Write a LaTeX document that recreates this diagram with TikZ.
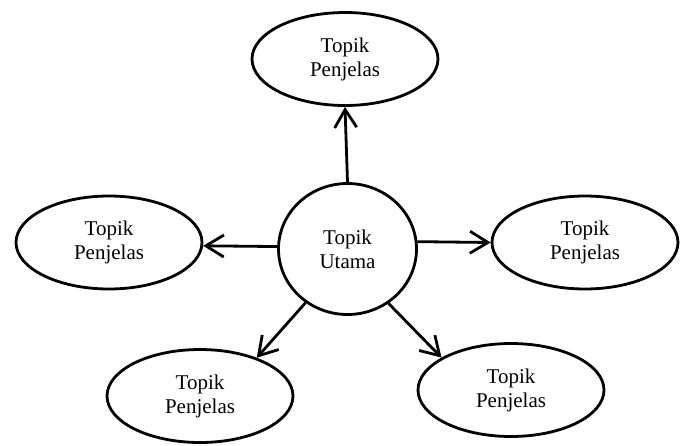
\documentclass[tikz,border=0pt]{standalone}
\usepackage{fontspec}
\setmainfont{Liberation Serif}
\usetikzlibrary{shapes.geometric,arrows.meta}
\begin{document}
\begin{tikzpicture}[x=1pt,y=-1pt,
  every node/.style={font=\rmfamily\fontsize{21}{24}\selectfont, align=center},
  sub/.style={ellipse, draw, line width=2.8pt, inner sep=0pt, minimum width=186pt, minimum height=93pt},
  mainc/.style={ellipse, draw, line width=2.8pt, inner sep=0pt, minimum width=138pt, minimum height=131pt},
  conn/.style={line width=2.8pt, -{Straight Barb[length=18pt,width=22pt,line width=2.8pt]}}]
\useasboundingbox (0,0) rectangle (685,445);
\node[mainc] (c) at (347.5,249) {Topik\\Utama};
\node[sub] (t) at (345,59) {Topik\\Penjelas};
\node[sub] (l) at (109,242.5) {Topik\\Penjelas};
\node[sub] (r) at (585,242.5) {Topik\\Penjelas};
\node[sub] (bl) at (200,396) {Topik\\Penjelas};
\node[sub] (br) at (511,390) {Topik\\Penjelas};
\draw[conn] (c.north) -- (t.south);
\draw[conn] (c.178) -- (l.358);
\draw[conn] (c.6) -- (r.180);
\draw[conn] (c.232) -- (bl.34);
\draw[conn] (c.307) -- (br.155);
\end{tikzpicture}
\end{document}
